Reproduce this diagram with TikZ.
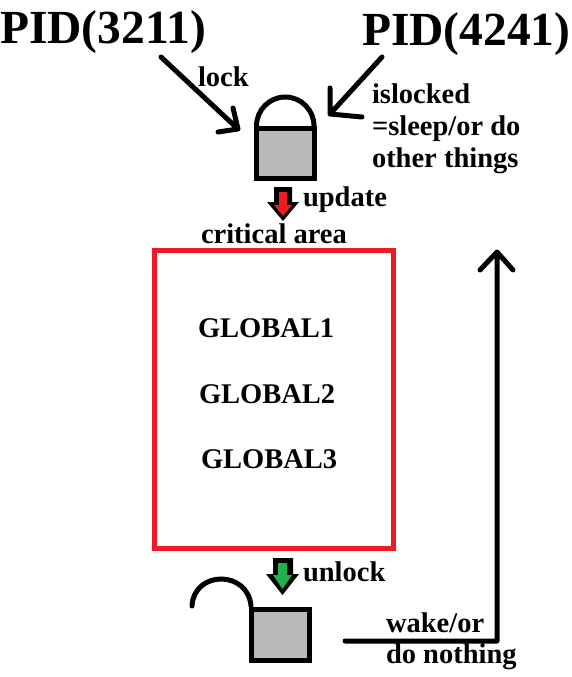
\documentclass[tikz,border=0pt]{standalone}
\usepackage{fontspec}
\setmainfont{Liberation Serif}[BoldFont={Liberation Serif Bold}]
\definecolor{lockgrey}{HTML}{B9B9B9}
\definecolor{areared}{HTML}{ED1C24}
\definecolor{okgreen}{HTML}{22B14C}
\tikzset{
  lbl/.style={anchor=base west,inner sep=0pt,outer sep=0pt,font=\fontsize{28.5}{28.5}\selectfont\bfseries,text=black},
  big/.style={anchor=base west,inner sep=0pt,outer sep=0pt,font=\fontsize{47.5}{47.5}\selectfont\bfseries,text=black},
  ink/.style={draw=black,line width=5pt,line cap=round,line join=round},
  body/.style={draw=black,line width=5pt,fill=lockgrey,line join=miter},
}
\begin{document}
\begin{tikzpicture}[x=1pt,y=-1pt]
\useasboundingbox (0,0) rectangle (572,677);
\fill[white] (0,0) rectangle (572,677);
% text
\node[big] (p1) at (0,44) {PID(3211)};
\node[big] (p2) at (362,46) {PID(4241)};
\node[lbl] (lk) at (198,86) {lock};
\node[lbl] (i1) at (372,103) {islocked};
\node[lbl] (i2) at (372,135) {=sleep/or do};
\node[lbl] (i3) at (372,167) {other things};
\node[lbl] (up) at (303,206) {update};
\node[lbl] (ca) at (201,243) {critical area};
\node[lbl] (g1) at (198,337) {GLOBAL1};
\node[lbl] (g2) at (199,403) {GLOBAL2};
\node[lbl] (g3) at (201,468) {GLOBAL3};
\node[lbl] (ul) at (303,581) {unlock};
\node[lbl] (w1) at (386,632) {wake/or};
\node[lbl] (w2) at (386,663) {do nothing};
% critical area
\draw[areared,line width=5pt] (154.5,250.5) rectangle (393.5,548.5);
% top lock
\draw[draw=black,line width=5pt] (256.5,126) arc[start angle=180,end angle=360,x radius=28.75,y radius=29];
\draw[body] (256.5,128.5) rectangle (314,178.5);
% bottom lock
\draw[draw=black,line width=5pt,line cap=round] (192,606) .. controls (194,570) and (248,570) .. (251,606);
\draw[body] (251.5,609.5) rectangle (309,660);
% incoming arrows
\coordinate (a1s) at (161,57); \coordinate (a1e) at (238,129);
\coordinate (a1u) at (233,108); \coordinate (a1v) at (218,132);
\draw[ink] (a1s) -- (a1e) (a1u) -- (a1e) -- (a1v);
\coordinate (a2s) at (382,57); \coordinate (a2e) at (330,114);
\coordinate (a2u) at (330,88); \coordinate (a2v) at (362,117);
\draw[ink] (a2s) -- (a2e) (a2u) -- (a2e) -- (a2v);
% small arrows
\fill[black] (274,187) -- (292,187) -- (292,202) -- (299,202) -- (283,221) -- (267,202) -- (274,202) -- cycle;
\fill[areared] (279,192) -- (287,192) -- (287,205) -- (292,205) -- (283,216) -- (274,205) -- (279,205) -- cycle;
\fill[black] (273,558) -- (293,558) -- (293,574) -- (299,574) -- (282.5,595) -- (266,574) -- (273,574) -- cycle;
\fill[okgreen] (278,563) -- (287,563) -- (287,575) -- (292,575) -- (282.5,589) -- (273,575) -- (278,575) -- cycle;
% wake arrow
\coordinate (ws) at (345,641); \coordinate (wc) at (497,641); \coordinate (wt) at (497,252);
\coordinate (wl) at (480,270); \coordinate (wr) at (513,270);
\draw[ink] (ws) -- (wc) -- (wt) (wl) -- (wt) -- (wr);
\end{tikzpicture}
\end{document}
